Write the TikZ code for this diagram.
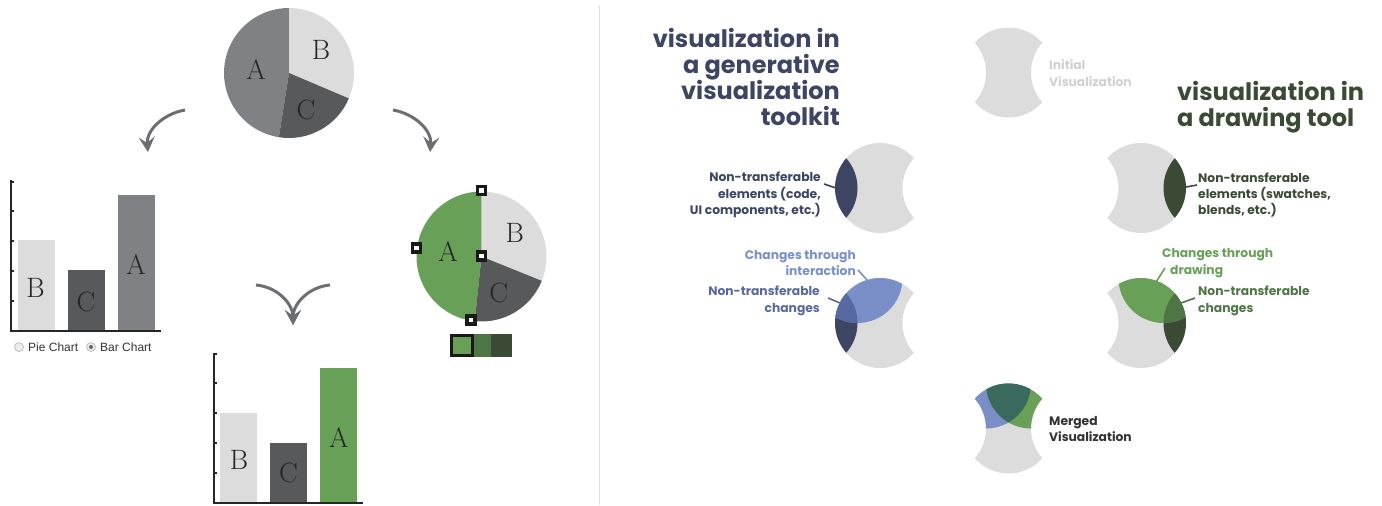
\documentclass[tikz,border=0pt]{standalone}
\usepackage{fontspec}
\usepackage{tikz}
\usetikzlibrary{arrows.meta,positioning}
\newfontfamily\ralefont{Poppins}
\newfontfamily\uifont{Liberation Sans}
\definecolor{pieA}{RGB}{128,129,133}
\definecolor{pieB}{RGB}{220,220,220}
\definecolor{pieC}{RGB}{88,89,91}
\definecolor{arrowgray}{RGB}{109,110,113}
\definecolor{navy}{RGB}{61,69,99}
\definecolor{vblue}{RGB}{122,143,200}
\definecolor{midblue}{RGB}{88,104,160}
\definecolor{vgreen}{RGB}{104,160,88}
\definecolor{midgreen}{RGB}{78,117,69}
\definecolor{darkgreen}{RGB}{58,74,53}
\definecolor{teal}{RGB}{58,106,94}
\definecolor{faint}{RGB}{208,208,208}
\definecolor{merged}{RGB}{51,51,51}

\begin{document}
\begin{tikzpicture}[x=1pt,y=1pt]
                    \tikzstyle{every node}+=[inner sep=0pt]
                    \tikzstyle{letter}=[font=\fontsize{28}{28}\selectfont, text=black!85]
                    \tikzstyle{curvy}=[draw=arrowgray, line width=3, -{Stealth[length=15pt,width=16pt,inset=6pt]}]
                    \tikzstyle{axis}=[draw=black!85, line width=2]
                    \tikzstyle{bigtitle}=[font=\ralefont\bfseries\fontsize{24}{26}\selectfont]
                    \tikzstyle{callout}=[font=\ralefont\bfseries\fontsize{12.3}{16.3}\selectfont]
                    \tikzstyle{leader}=[line width=1.6]
                    \tikzstyle{handle}=[draw=black!90, line width=3.5, fill=white, minimum size=8]
                    \tikzstyle{radio}=[circle, draw=black!30, fill=black!8, minimum size=9, line width=0.6]
                    \tikzstyle{bothbites}=[insert path={(41.41:45) arc [start angle=41.41, end angle=138.59, radius=45] arc [start angle=41.41, end angle=-41.41, radius=45] arc [start angle=221.41, end angle=318.59, radius=45] arc [start angle=221.41, end angle=138.59, radius=45] -- cycle}]
                    \tikzstyle{rightbite}=[insert path={(41.41:45) arc [start angle=41.41, end angle=318.59, radius=45] arc [start angle=221.41, end angle=138.59, radius=45] -- cycle}]
                    \tikzstyle{leftbite}=[insert path={(221.41:45) arc [start angle=221.41, end angle=498.59, radius=45] arc [start angle=41.41, end angle=-41.41, radius=45] -- cycle}]
                    \tikzstyle{leftlens}=[insert path={(138.59:45) arc [start angle=138.59, end angle=221.41, radius=45] arc [start angle=-41.41, end angle=41.41, radius=45] -- cycle}]
                    \tikzstyle{rightlens}=[insert path={(-41.41:45) arc [start angle=-41.41, end angle=41.41, radius=45] arc [start angle=138.59, end angle=221.41, radius=45] -- cycle}]
                    \useasboundingbox (0,0) rectangle (1382,-506);
                    \draw [black!12, line width=1] (599,-5) -- (599,-505);
                    \fill [pieA] (289,-73) -- ++(90:65) arc [start angle=90, end angle=261, radius=65] -- cycle;
                    \fill [pieB] (289,-73) -- ++(-23:65) arc [start angle=-23, end angle=90, radius=65] -- cycle;
                    \fill [pieC] (289,-73) -- ++(261:65) arc [start angle=261, end angle=337, radius=65] -- cycle;
                    \node [letter] (topA) at (256,-70) {A};
                    \node [letter] (topB) at (321,-50) {B};
                    \node [letter] (topC) at (306,-110) {C};
                    \coordinate (leftfrom) at (185,-110);
                    \coordinate (leftto) at (148,-152);
                    \coordinate (rightfrom) at (393,-110);
                    \coordinate (rightto) at (430,-152);
                    \draw [curvy] (leftfrom) to [out=190, in=95] (leftto);
                    \draw [curvy] (rightfrom) to [out=-10, in=85] (rightto);
                    \coordinate (mergeL) at (256,-285);
                    \coordinate (mergeR) at (330,-285);
                    \coordinate (mergeto) at (293,-325);
                    \draw [curvy] (mergeL) to [out=-5, in=90] (mergeto);
                    \draw [curvy] (mergeR) to [out=185, in=90] (mergeto);
                    \draw [axis] (11,-180) -- (11,-331) -- (161,-331);
                    \draw [axis] (11,-182) -- (14,-182);
                    \draw [axis] (11,-211) -- (14,-211);
                    \draw [axis] (11,-241) -- (14,-241);
                    \draw [axis] (11,-271) -- (14,-271);
                    \draw [axis] (11,-301) -- (14,-301);
                    \fill [pieB] (18,-240) rectangle (55,-330);
                    \fill [pieC] (68,-270) rectangle (104.5,-330);
                    \fill [pieA] (118,-195) rectangle (154.6,-330);
                    \node [letter] (barB) at (35.6,-288) {B};
                    \node [letter] (barC) at (86,-302) {C};
                    \node [letter] (barA) at (136,-265) {A};
                    \node [radio] (pieradio) at (19,-347) {};
                    \node [radio] (barradio) at (91,-347) {};
                    \fill [black!60] (barradio) circle (2);
                    \node [font=\uifont\fontsize{12}{12}\selectfont, text=black!80, anchor=west] (pietext) at (28,-347) {Pie Chart};
                    \node [font=\uifont\fontsize{12}{12}\selectfont, text=black!80, anchor=west] (bartext) at (100,-347) {Bar Chart};
                    \fill [vgreen] (481.5,-256.5) -- ++(90:65) arc [start angle=90, end angle=264, radius=65] -- cycle;
                    \fill [pieB] (481.5,-256.5) -- ++(-22:65) arc [start angle=-22, end angle=90, radius=65] -- cycle;
                    \fill [pieC] (481.5,-256.5) -- ++(264:65) arc [start angle=264, end angle=338, radius=65] -- cycle;
                    \node [letter] (greenA) at (448,-252) {A};
                    \node [letter] (greenB) at (514.7,-233) {B};
                    \node [letter] (greenC) at (498.7,-292.7) {C};
                    \node [handle] (htop) at (481.4,-190.7) {};
                    \node [handle] (hleft) at (416.4,-248) {};
                    \node [handle] (hmid) at (481.4,-256) {};
                    \node [handle] (hbottom) at (471,-320) {};
                    \fill [vgreen] (450,-334) rectangle (473.4,-357);
                    \fill [midgreen] (473.4,-334) rectangle (491,-357);
                    \fill [darkgreen] (491,-334) rectangle (512,-357);
                    \draw [black!90, line width=3] (451.5,-335.5) rectangle (472,-355.5);
                    \draw [axis] (213.5,-353) -- (213.5,-503) -- (363,-503);
                    \draw [axis] (213.5,-354) -- (216.5,-354);
                    \draw [axis] (213.5,-383) -- (216.5,-383);
                    \draw [axis] (213.5,-413) -- (216.5,-413);
                    \draw [axis] (213.5,-443) -- (216.5,-443);
                    \draw [axis] (213.5,-473) -- (216.5,-473);
                    \fill [pieB] (220,-413) rectangle (257,-502);
                    \fill [pieC] (270,-443) rectangle (307,-502);
                    \fill [vgreen] (320,-368) rectangle (357,-502);
                    \node [letter] (lowB) at (239,-460) {B};
                    \node [letter] (lowC) at (288.5,-473) {C};
                    \node [letter] (lowA) at (338.7,-438) {A};
                    \node [bigtitle, text=navy, align=right, anchor=north east] (gentitle) at (840,-28) {visualization in\\a generative\\visualization\\toolkit};
                    \node [bigtitle, text=darkgreen, align=left, anchor=north west] (drawtitle) at (1177,-81) {visualization in\\a drawing tool};
                    \begin{scope}[shift={(1008.5,-72.5)}]
                    \fill [pieB, bothbites];
                    \end{scope}
                    \node [callout, text=faint, align=left, anchor=west] (initialtext) at (1049,-73) {Initial\\Visualization};
                    \begin{scope}[shift={(880,-188)}]
                    \fill [pieB, rightbite];
                    \fill [navy, leftlens];
                    \end{scope}
                    \node [callout, text=navy, align=right, anchor=east] (codetext) at (821,-195) {Non-transferable\\elements (code,\\UI components, etc.)};
                    \coordinate (codeA) at (824,-184);
                    \coordinate (codeB) at (836,-188);
                    \draw [leader, navy] (codeA) -- (codeB);
                    \begin{scope}[shift={(1141,-188)}]
                    \fill [pieB, leftbite];
                    \fill [darkgreen, rightlens];
                    \end{scope}
                    \node [callout, text=darkgreen, align=left, anchor=west] (swatchtext) at (1198,-195) {Non-transferable\\elements (swatches,\\blends, etc.)};
                    \coordinate (swatchA) at (1186,-187);
                    \coordinate (swatchB) at (1197,-185);
                    \draw [leader, darkgreen] (swatchA) -- (swatchB);
                    \begin{scope}[shift={(880,-323)}]
                    \fill [pieB, rightbite];
                    \fill [navy, leftlens];
                    \begin{scope}
                    \clip (0,0) circle (45);
                    \fill [vblue] (-22.5,45) circle (45);
                    \end{scope}
                    \begin{scope}
                    \clip [leftlens];
                    \fill [midblue] (-22.5,45) circle (45);
                    \end{scope}
                    \end{scope}
                    \node [callout, text=vblue, align=right, anchor=east] (interacttext) at (856,-263) {Changes through\\interaction\hspace{9pt}};
                    \node [callout, text=midblue, align=right, anchor=east] (blueloss) at (820,-301) {Non-transferable\\changes};
                    \coordinate (interactA) at (858,-270);
                    \coordinate (interactB) at (867,-280);
                    \coordinate (bluelossA) at (828,-298);
                    \coordinate (bluelossB) at (840,-303);
                    \draw [leader, vblue] (interactA) -- (interactB);
                    \draw [leader, midblue] (bluelossA) -- (bluelossB);
                    \begin{scope}[shift={(1141,-323)}]
                    \fill [pieB, leftbite];
                    \fill [darkgreen, rightlens];
                    \begin{scope}
                    \clip (0,0) circle (45);
                    \fill [vgreen] (22.5,45) circle (45);
                    \end{scope}
                    \begin{scope}
                    \clip [rightlens];
                    \fill [midgreen] (22.5,45) circle (45);
                    \end{scope}
                    \end{scope}
                    \node [callout, text=vgreen, align=left, anchor=west] (drawtext) at (1162,-263) {Changes through\\\hspace{8pt}drawing};
                    \node [callout, text=midgreen, align=left, anchor=west] (greenloss) at (1198,-301) {Non-transferable\\changes};
                    \coordinate (drawA) at (1156,-282);
                    \coordinate (drawB) at (1165,-268);
                    \coordinate (greenlossA) at (1181,-303);
                    \coordinate (greenlossB) at (1195,-298);
                    \draw [leader, vgreen] (drawA) -- (drawB);
                    \draw [leader, midgreen] (greenlossA) -- (greenlossB);
                    \begin{scope}[shift={(1008.5,-428.5)}]
                    \fill [pieB, bothbites];
                    \clip [bothbites];
                    \fill [vblue] (-22.5,45) circle (45);
                    \fill [vgreen] (22.5,45) circle (45);
                    \clip (-22.5,45) circle (45);
                    \fill [teal] (22.5,45) circle (45);
                    \end{scope}
                    \node [callout, text=merged, align=left, anchor=west] (mergedtext) at (1049,-429) {Merged\\Visualization};
                \end{tikzpicture}
\end{document}
